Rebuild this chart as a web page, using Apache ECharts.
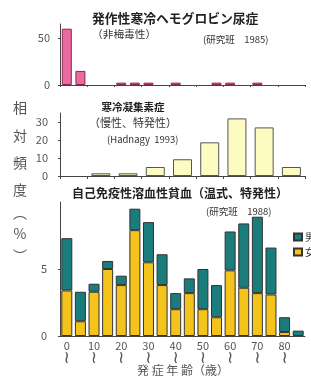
<!DOCTYPE html>
<html>
<head>
<meta charset="utf-8">
<script src="https://cdn.jsdelivr.net/npm/echarts@6/dist/echarts.min.js"></script>
<style>
  html, body { margin: 0; padding: 0; background: #fff; }
  #main { width: 311px; height: 378px; }
</style>
</head>
<body>
<div id="main"></div>
<script>
// chart初期化
var chart = echarts.init(document.getElementById('main'));

// 年齢区分（5歳刻み / 10歳刻み）
var ages5 = ['0', '5', '10', '15', '20', '25', '30', '35', '40', '45', '50', '55', '60', '65', '70', '75', '80', '85'];
var ages10 = ['0', '10', '20', '30', '40', '50', '60', '70', '80'];

// 発作性寒冷ヘモグロビン尿症（%）
var pchValues = [60, 15, 0, 0, 2.5, 2.5, 2.5, 0, 2.5, 0, 0, 2.5, 2.5, 0, 2.5, 0, 0, 0];
// 寒冷凝集素症（%）
var cadValues = [0, 1.5, 1.5, 5, 9.3, 18.7, 32, 27, 5];
// 自己免疫性溶血性貧血（%）女・男
var aihaFemale = [3.4, 1.1, 3.3, 5.0, 3.8, 7.9, 5.5, 3.8, 2.0, 3.2, 2.0, 1.4, 4.9, 3.6, 3.2, 3.1, 0.3, 0];
var aihaMale = [3.9, 2.2, 0.6, 0.6, 0.7, 1.6, 3.0, 2.3, 1.2, 1.1, 3.0, 2.4, 2.9, 4.8, 5.7, 3.5, 1.1, 0.4];

var FONT = '"Noto Sans CJK JP", "Noto Sans", sans-serif';
var axisColor = '#444';
var labelColor = '#555';

// 0 の棒は描かない（枠線だけ残るので）
function noZero(arr) {
  return arr.map(function (v) { return v === 0 ? '-' : v; });
}

// テキスト
function txt(s, x, y, size, opt) {
  opt = opt || {};
  return {
    type: 'text',
    x: x,
    y: y,
    silent: true,
    style: {
      text: s,
      font: (opt.bold ? 'bold ' : '') + size + 'px ' + FONT,
      fill: opt.color || '#333',
      textAlign: opt.align || 'left',
      align: opt.align || 'left',
      textVerticalAlign: 'middle',
      verticalAlign: 'middle'
    }
  };
}

var sideLabel = ['相', '対', '頻', '度', '︵', '%', '︶'];
var sideY = [108, 136, 163, 190, 213, 234, 256];
var graphics = [
  txt('発作性寒冷ヘモグロビン尿症', 92, 18, 12.8, { bold: true, color: '#222' }),
  txt('（非梅毒性）', 92, 34, 10.7),
  txt('(研究班　1985)', 203, 39, 9.5),
  txt('寒冷凝集素症', 133, 107, 10.5, { bold: true, color: '#222', align: 'center' }),
  txt('（慢性、特発性）', 133, 123, 11, { align: 'center' }),
  txt('(Hadnagy  1993)', 107, 139, 9.5),
  txt('自己免疫性溶血性貧血（温式、特発性）', 72, 193, 12, { bold: true, color: '#222' }),
  txt('(研究班　1988)', 206, 211, 9.5),
  txt('発 症 年 齢（歳）', 183, 370, 12, { align: 'center', color: labelColor })
];
sideLabel.forEach(function (c, i) {
  graphics.push(txt(c, 20, sideY[i], 14, { align: 'center', color: labelColor }));
});

function yAxisOf(idx, max, interval, margin) {
  return {
    type: 'value',
    gridIndex: idx,
    min: 0,
    max: max,
    interval: interval,
    splitLine: { show: false },
    axisLine: { show: true, lineStyle: { color: axisColor, width: 1 } },
    axisTick: { show: true, length: 2, lineStyle: { color: axisColor } },
    axisLabel: { showMaxLabel: false, margin: margin, color: labelColor, fontSize: 11, fontFamily: FONT }
  };
}

var option = {
  animation: false,
  graphic: graphics,
  grid: [
    { left: 60, top: 24, width: 245, height: 61 },
    { left: 60, top: 113, width: 245, height: 63 },
    { left: 60, top: 202, width: 245, height: 134 }
  ],
  legend: {
    data: ['男', '女'],
    orient: 'vertical',
    left: 288,
    top: 227,
    itemWidth: 8,
    itemHeight: 7,
    itemGap: 5,
    icon: 'rect',
    textStyle: { fontSize: 10, color: '#333', fontFamily: FONT, padding: [0, 0, 0, -2] }
  },
  xAxis: [
    {
      type: 'category', gridIndex: 0, data: ages5,
      axisLine: { lineStyle: { color: axisColor } },
      axisTick: { show: true, length: 2, lineStyle: { color: axisColor } },
      axisLabel: { show: false }
    },
    {
      type: 'category', gridIndex: 1, data: ages10,
      axisLine: { lineStyle: { color: axisColor } },
      axisTick: { show: true, length: 3, lineStyle: { color: axisColor } },
      axisLabel: { show: false }
    },
    {
      type: 'category', gridIndex: 2, data: ages5,
      axisLine: { lineStyle: { color: axisColor } },
      axisTick: { show: false },
      axisLabel: {
        interval: 1,
        margin: 4,
        color: labelColor,
        fontSize: 11,
        lineHeight: 12,
        fontFamily: FONT,
        formatter: function (v) { return v + '\n{w|≀}'; },
        rich: {
          w: { fontFamily: 'DejaVu Sans', fontSize: 17, lineHeight: 13, color: labelColor }
        }
      }
    }
  ],
  yAxis: [
    yAxisOf(0, 65, 50, 10),
    yAxisOf(1, 35, 10, 12),
    yAxisOf(2, 10, 5, 13)
  ],
  series: [
    {
      type: 'bar', xAxisIndex: 0, yAxisIndex: 0,
      data: noZero(pchValues),
      barWidth: 10,
      itemStyle: { color: '#ea6ba0', borderColor: '#8e2654', borderWidth: 1 }
    },
    {
      type: 'bar', xAxisIndex: 1, yAxisIndex: 1,
      data: noZero(cadValues),
      barWidth: 19,
      itemStyle: { color: '#fdfbc2', borderColor: '#555', borderWidth: 1 }
    },
    {
      name: '女', type: 'bar', xAxisIndex: 2, yAxisIndex: 2, stack: 'aiha',
      data: noZero(aihaFemale),
      barWidth: 11,
      itemStyle: { color: '#f4c31c', borderColor: '#333', borderWidth: 1 }
    },
    {
      name: '男', type: 'bar', xAxisIndex: 2, yAxisIndex: 2, stack: 'aiha',
      data: aihaMale,
      barWidth: 11,
      itemStyle: { color: '#1b7c7c', borderColor: '#333', borderWidth: 1 }
    }
  ]
};

chart.setOption(option);
</script>
</body>
</html>
